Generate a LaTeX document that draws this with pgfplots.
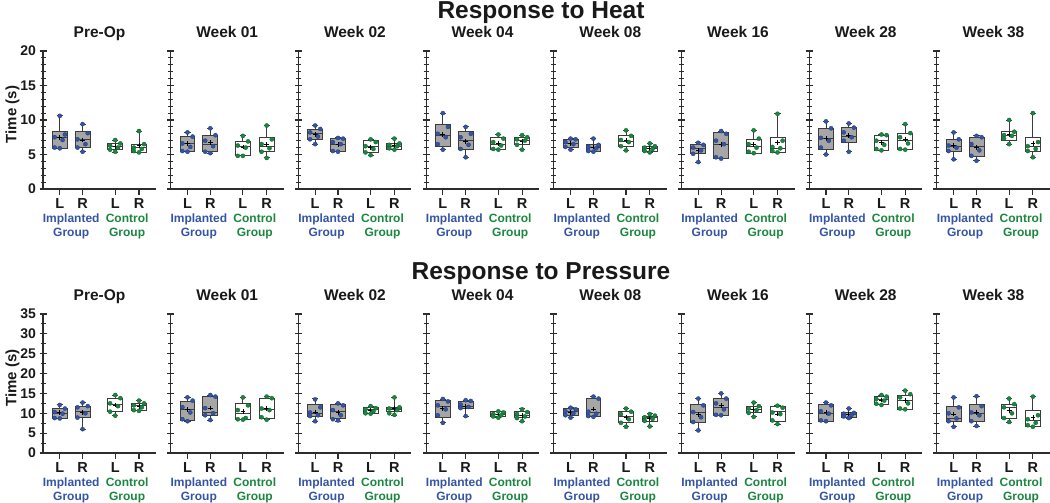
\documentclass[border=0pt]{standalone}
\usepackage{fontspec}
\setmainfont{Liberation Sans}
\usepackage{pgfplots}
\pgfplotsset{compat=1.18}
\usepgfplotslibrary{statistics}
\definecolor{implblue}{RGB}{52,84,166}
\definecolor{ctrlgreen}{RGB}{26,135,64}
\definecolor{boxgray}{RGB}{166,166,166}
\definecolor{edgegray}{RGB}{60,60,60}
\definecolor{axgray}{RGB}{45,45,45}
\pgfplotsset{
  panel/.style={
    scale only axis, width=113pt, anchor=south west, clip=false,
    xmin=0, xmax=4.85, axis lines=left,
    axis line style={-, draw=axgray, line width=1.1pt},
    xtick={0.72,1.7,3.1,4.12}, xticklabels={L,R,L,R},
    tick align=center, major tick length=7pt, minor tick length=5pt,
    tick style={draw=axgray, line width=1.1pt},
    xtick style={yshift=-2.5pt},
    xticklabel style={font=\fontsize{14.5}{15}\selectfont\bfseries, text=black!90, anchor=base, yshift=-16pt},
    yticklabel style={font=\fontsize{14}{15}\selectfont\bfseries, text=black!90},
    /pgf/number format/assume math mode=true,
    title style={font=\fontsize{15.5}{16}\selectfont\bfseries, text=black!90, anchor=base, at={(axis description cs:0.5,1)}, yshift=7pt},
    ylabel style={font=\fontsize{15}{16}\selectfont\bfseries, text=black!90, at={(ticklabel cs:0.54,-6pt)}},
    boxplot/draw direction=y,
  },
  heat/.style={ymin=0, ymax=20, ytick={0,5,10,15,20}, minor y tick num=4, height=138pt},
  press/.style={ymin=0, ymax=35, ytick={0,5,10,15,20,25,30,35}, minor y tick num=1, height=139pt},
  nolab/.style={yticklabel=\empty},
  implbox/.style={draw=edgegray, fill=boxgray, line width=0.9pt, solid, mark=none,
    boxplot/box extend=0.64, boxplot/whisker extend=0.26},
  ctrlbox/.style={draw=edgegray, fill=white, line width=0.9pt, solid, mark=none,
    boxplot/box extend=0.64, boxplot/whisker extend=0.26},
  implpts/.style={only marks, mark=*, mark size=2.1pt, mark options={fill=implblue, draw=implblue!70!black, line width=0.3pt}},
  ctrlpts/.style={only marks, mark=*, mark size=2.1pt, mark options={fill=ctrlgreen, draw=ctrlgreen!70!black, line width=0.3pt}},
  meanmark/.style={only marks, mark=+, mark size=2.4pt, mark options={draw=black, line width=0.8pt}},
}
\tikzset{
  impllab/.style={anchor=base, font=\fontsize{12}{13}\selectfont\bfseries, text=implblue, inner sep=0pt},
  ctrllab/.style={anchor=base, font=\fontsize{12}{13}\selectfont\bfseries, text=ctrlgreen, inner sep=0pt},
}
\def\bxpts#1#2#3/#4/#5/#6/#7/#8\relax{%
  \pgfmathsetmacro\xa{#2}%
  \pgfmathsetmacro\xb{#2+0.22}%
  \pgfmathsetmacro\xc{#2-0.22}%
  \pgfmathsetmacro\xd{#2+0.12}%
  \addplot[#1pts] coordinates {(\xa,#3) (\xb,#4) (\xc,#5) (\xd,#6) (\xc,#7) (\xa,#8)};%
}
\newcommand{\bx}[9]{%
  \addplot[#1box, boxplot prepared={draw position=#2, lower whisker=#3, lower quartile=#4, median=#5, upper quartile=#6, upper whisker=#7}] coordinates {};
  \addplot[meanmark] coordinates {(#2,#8)};
  \bxpts{#1}{#2}#9\relax
}
\newcommand{\grouplabels}{%
  \node[impllab, yshift=-33.5pt] at (axis cs:1.21,0) {Implanted};
  \node[impllab, yshift=-48pt] at (axis cs:1.21,0) {Group};
  \node[ctrllab, yshift=-33.5pt] at (axis cs:3.61,0) {Control};
  \node[ctrllab, yshift=-48pt] at (axis cs:3.61,0) {Group};
}
\begin{document}
\begin{tikzpicture}
\path[use as bounding box] (0,0) rectangle (1050pt,503pt);
\node[font=\fontsize{24.5}{26}\selectfont\bfseries, text=black!90, anchor=base] at (541pt,484.5pt) {Response to Heat};
\node[font=\fontsize{24.5}{26}\selectfont\bfseries, text=black!90, anchor=base] at (541pt,223pt) {Response to Pressure};
% ================= HEAT =================
\begin{axis}[panel, heat, at={(43pt,314pt)}, title={Pre-Op}, ylabel={Time (s)}]
\bx{impl}{0.72}{5.9}{5.9}{7.4}{8.4}{10.6}{7.5}{10.6/7.9/7.5/7.1/6.0/5.9}
\bx{impl}{1.7}{5.4}{6.0}{7.2}{8.3}{9.4}{7.1}{9.4/8.1/7.2/6.5/6.0/5.4}
\bx{ctrl}{3.1}{5.3}{5.7}{6.2}{6.6}{7.1}{6.2}{7.1/6.6/6.3/6.0/5.7/5.4}
\bx{ctrl}{4.12}{5.3}{5.3}{6.0}{6.5}{8.4}{6.25}{8.4/6.5/6.0/5.8/5.5/5.3}
\grouplabels
\end{axis}
\begin{axis}[panel, heat, nolab, at={(170.7pt,314pt)}, title={Week 01}]
\bx{impl}{0.72}{5.4}{5.4}{6.6}{7.6}{8.2}{6.57}{8.2/7.6/6.6/6.1/5.5/5.4}
\bx{impl}{1.7}{5.2}{5.4}{6.5}{7.8}{8.8}{6.73}{8.8/7.8/7.0/6.2/5.4/5.2}
\bx{ctrl}{3.1}{4.8}{4.8}{6.1}{6.9}{7.7}{6.08}{7.7/6.9/6.3/6.0/4.8/4.8}
\bx{ctrl}{4.12}{4.5}{5.4}{6.2}{7.5}{9.2}{6.45}{9.2/7.2/6.5/5.9/5.4/4.5}
\grouplabels
\end{axis}
\begin{axis}[panel, heat, nolab, at={(298.4pt,314pt)}, title={Week 02}]
\bx{impl}{0.72}{6.5}{7.2}{8.0}{8.7}{9.2}{7.9}{9.2/8.7/8.2/7.6/7.2/6.5}
\bx{impl}{1.7}{5.4}{5.4}{6.5}{7.3}{7.4}{6.48}{7.4/7.3/6.8/6.5/5.5/5.4}
\bx{ctrl}{3.1}{4.9}{5.3}{6.1}{7.0}{7.2}{6.03}{7.2/6.8/6.2/5.8/5.3/4.9}
\bx{ctrl}{4.12}{5.7}{5.7}{6.2}{6.6}{7.3}{6.35}{7.3/6.6/6.4/6.2/5.9/5.7}
\grouplabels
\end{axis}
\begin{axis}[panel, heat, nolab, at={(426.1pt,314pt)}, title={Week 04}]
\bx{impl}{0.72}{5.7}{6.1}{7.7}{9.4}{11.0}{7.95}{11.0/9.0/8.0/7.5/6.5/5.7}
\bx{impl}{1.7}{4.6}{5.7}{7.1}{8.3}{9.0}{6.88}{9.0/8.0/7.5/6.4/5.8/4.6}
\bx{ctrl}{3.1}{5.7}{5.7}{6.5}{7.4}{7.9}{6.63}{7.9/7.3/6.8/6.3/5.8/5.7}
\bx{ctrl}{4.12}{5.7}{6.4}{7.1}{7.5}{7.8}{6.93}{7.8/7.5/7.2/7.0/6.4/5.7}
\grouplabels
\end{axis}
\begin{axis}[panel, heat, nolab, at={(553.8pt,314pt)}, title={Week 08}]
\bx{impl}{0.72}{5.7}{6.0}{6.6}{7.2}{7.3}{6.6}{7.3/7.2/6.8/6.5/6.1/5.7}
\bx{impl}{1.7}{5.4}{5.4}{6.0}{6.5}{7.3}{6.1}{7.3/6.4/6.1/5.9/5.5/5.4}
\bx{ctrl}{3.1}{5.6}{6.1}{6.9}{7.7}{8.5}{6.98}{8.5/7.7/7.1/6.8/6.2/5.6}
\bx{ctrl}{4.12}{5.3}{5.4}{5.9}{6.2}{6.6}{5.9}{6.6/6.2/6.0/5.8/5.5/5.3}
\grouplabels
\end{axis}
\begin{axis}[panel, heat, nolab, at={(681.5pt,314pt)}, title={Week 16}]
\bx{impl}{0.72}{3.9}{5.1}{5.9}{6.4}{6.8}{5.62}{6.7/6.4/6.0/5.6/5.1/3.9}
\bx{impl}{1.7}{4.4}{4.4}{6.5}{8.2}{8.4}{6.48}{8.4/8.0/7.0/6.5/4.6/4.4}
\bx{ctrl}{3.1}{5.2}{5.2}{6.2}{7.2}{8.5}{6.48}{8.5/7.3/6.5/6.0/5.4/5.2}
\bx{ctrl}{4.12}{5.3}{5.3}{5.9}{7.4}{10.9}{6.78}{10.9/7.0/6.1/5.9/5.5/5.3}
\grouplabels
\end{axis}
\begin{axis}[panel, heat, nolab, at={(809.2pt,314pt)}, title={Week 28}]
\bx{impl}{0.72}{5.0}{5.7}{7.3}{8.8}{9.8}{7.33}{9.8/8.8/7.4/7.0/6.0/5.0}
\bx{impl}{1.7}{5.4}{6.7}{7.6}{8.9}{9.5}{7.75}{9.5/8.9/8.2/7.5/7.0/5.4}
\bx{ctrl}{3.1}{5.6}{5.6}{7.1}{7.8}{7.9}{6.75}{7.9/7.8/7.0/6.4/5.8/5.6}
\bx{ctrl}{4.12}{5.7}{5.7}{7.1}{8.1}{9.4}{7.18}{9.4/8.1/7.5/6.6/5.8/5.7}
\grouplabels
\end{axis}
\begin{axis}[panel, heat, nolab, at={(936.9pt,314pt)}, title={Week 38}]
\bx{impl}{0.72}{4.3}{5.4}{6.2}{7.2}{8.2}{6.25}{8.2/7.2/6.3/6.0/5.5/4.3}
\bx{impl}{1.7}{4.1}{4.7}{6.1}{7.5}{7.7}{6.03}{7.7/7.5/6.5/5.6/4.8/4.1}
\bx{ctrl}{3.1}{6.5}{7.1}{7.7}{8.3}{10.0}{7.93}{10.0/8.3/7.8/7.7/7.3/6.5}
\bx{ctrl}{4.12}{4.6}{5.5}{6.1}{7.4}{11.0}{6.65}{11.0/6.8/6.2/5.8/5.5/4.6}
\grouplabels
\end{axis}
% ================= PRESSURE =================
\begin{axis}[panel, press, at={(43pt,50pt)}, title={Pre-Op}, ylabel={Time (s)}]
\bx{impl}{0.72}{8.7}{8.7}{9.9}{11.2}{12.1}{10.17}{12.1/11.2/10.3/9.9/8.8/8.7}
\bx{impl}{1.7}{6.0}{8.9}{10.4}{11.6}{12.7}{10.15}{12.7/11.8/11.5/10.0/8.9/6.0}
\bx{ctrl}{3.1}{9.4}{10.4}{12.3}{13.7}{14.6}{12.08}{14.6/13.8/12.5/11.8/10.4/9.4}
\bx{ctrl}{4.12}{10.6}{10.6}{11.9}{12.6}{13.3}{11.77}{13.2/12.5/12.0/11.5/10.8/10.6}
\grouplabels
\end{axis}
\begin{axis}[panel, press, nolab, at={(170.7pt,50pt)}, title={Week 01}]
\bx{impl}{0.72}{8.0}{8.3}{11.0}{12.9}{14.0}{10.9}{14.0/13.2/11.5/10.2/8.5/8.0}
\bx{impl}{1.7}{8.3}{9.5}{10.2}{14.2}{14.6}{11.32}{14.6/14.2/11.3/10.0/9.5/8.3}
\bx{ctrl}{3.1}{8.4}{8.4}{9.9}{12.6}{14.0}{10.42}{14.0/12.0/10.8/8.8/8.5/8.4}
\bx{ctrl}{4.12}{8.4}{8.7}{11.0}{13.7}{14.2}{11.23}{14.2/13.8/11.2/10.8/9.0/8.4}
\grouplabels
\end{axis}
\begin{axis}[panel, press, nolab, at={(298.4pt,50pt)}, title={Week 02}]
\bx{impl}{0.72}{8.0}{9.3}{9.9}{12.1}{13.7}{10.33}{13.5/11.5/10.2/9.5/9.3/8.0}
\bx{impl}{1.7}{8.0}{8.7}{10.5}{12.1}{12.5}{10.25}{12.5/12.0/10.8/9.5/8.5/8.2}
\bx{ctrl}{3.1}{9.9}{9.9}{11.0}{11.5}{11.8}{10.75}{11.8/11.3/11.0/10.5/10.0/9.9}
\bx{ctrl}{4.12}{9.5}{10.4}{11.0}{11.5}{14.0}{11.18}{14.0/11.5/11.2/10.8/10.0/9.6}
\grouplabels
\end{axis}
\begin{axis}[panel, press, nolab, at={(426.1pt,50pt)}, title={Week 04}]
\bx{impl}{0.72}{7.6}{8.9}{11.6}{13.3}{13.6}{11.12}{13.6/13.0/12.0/11.0/9.5/7.6}
\bx{impl}{1.7}{9.3}{11.2}{11.6}{13.1}{13.3}{11.8}{13.3/13.1/12.2/11.6/11.3/9.3}
\bx{ctrl}{3.1}{8.9}{9.1}{9.8}{10.4}{10.5}{9.68}{10.5/10.2/9.8/9.5/9.2/8.9}
\bx{ctrl}{4.12}{8.0}{8.9}{9.5}{10.4}{11.2}{9.52}{11.0/10.3/9.8/9.2/8.8/8.0}
\grouplabels
\end{axis}
\begin{axis}[panel, press, nolab, at={(553.8pt,50pt)}, title={Week 08}]
\bx{impl}{0.72}{8.9}{9.5}{10.5}{11.2}{11.4}{10.22}{11.4/11.0/10.5/10.0/9.5/8.9}
\bx{impl}{1.7}{9.1}{9.1}{10.1}{13.7}{14.2}{11.1}{14.2/13.7/10.4/9.9/9.3/9.1}
\bx{ctrl}{3.1}{6.6}{7.6}{9.1}{10.4}{11.2}{9.02}{11.2/10.4/9.8/8.5/7.6/6.6}
\bx{ctrl}{4.12}{6.7}{8.0}{8.9}{9.3}{9.9}{8.6}{9.8/9.4/9.0/8.6/8.1/6.7}
\grouplabels
\end{axis}
\begin{axis}[panel, press, nolab, at={(681.5pt,50pt)}, title={Week 16}]
\bx{impl}{0.72}{5.7}{7.8}{10.1}{12.2}{13.7}{9.75}{13.7/12.0/10.3/9.0/7.8/5.7}
\bx{impl}{1.7}{9.5}{9.5}{11.5}{13.7}{15.0}{11.88}{15.0/13.7/12.5/11.0/9.6/9.5}
\bx{ctrl}{3.1}{9.1}{10.1}{11.0}{11.8}{12.7}{10.95}{12.7/11.8/11.2/10.8/10.1/9.1}
\bx{ctrl}{4.12}{7.3}{8.0}{10.4}{11.6}{11.9}{9.8}{11.9/11.4/10.2/9.8/8.2/7.3}
\grouplabels
\end{axis}
\begin{axis}[panel, press, nolab, at={(809.2pt,50pt)}, title={Week 28}]
\bx{impl}{0.72}{8.0}{8.0}{9.9}{12.2}{12.7}{10.22}{12.7/12.0/10.5/9.9/8.2/8.0}
\bx{impl}{1.7}{8.7}{8.9}{9.7}{10.1}{11.2}{9.8}{11.2/10.1/9.9/9.6/9.2/8.8}
\bx{ctrl}{3.1}{12.1}{12.3}{13.5}{14.2}{14.6}{13.35}{14.6/14.2/13.6/13.2/12.4/12.1}
\bx{ctrl}{4.12}{11.0}{11.0}{13.3}{14.6}{15.7}{13.2}{15.7/14.8/14.0/12.5/11.2/11.0}
\grouplabels
\end{axis}
\begin{axis}[panel, press, nolab, at={(936.9pt,50pt)}, title={Week 38}]
\bx{impl}{0.72}{6.6}{8.0}{8.7}{11.6}{14.0}{9.8}{14.0/11.5/10.0/8.7/8.0/6.6}
\bx{impl}{1.7}{6.7}{8.0}{9.9}{12.1}{14.3}{10.1}{14.3/11.8/10.2/9.5/8.0/6.8}
\bx{ctrl}{3.1}{7.8}{8.7}{11.4}{12.2}{13.7}{10.68}{13.7/12.3/11.5/10.0/8.8/7.8}
\bx{ctrl}{4.12}{6.6}{6.7}{8.3}{10.6}{14.2}{8.9}{14.2/9.5/8.5/7.6/7.0/6.6}
\grouplabels
\end{axis}
\end{tikzpicture}
\end{document}
